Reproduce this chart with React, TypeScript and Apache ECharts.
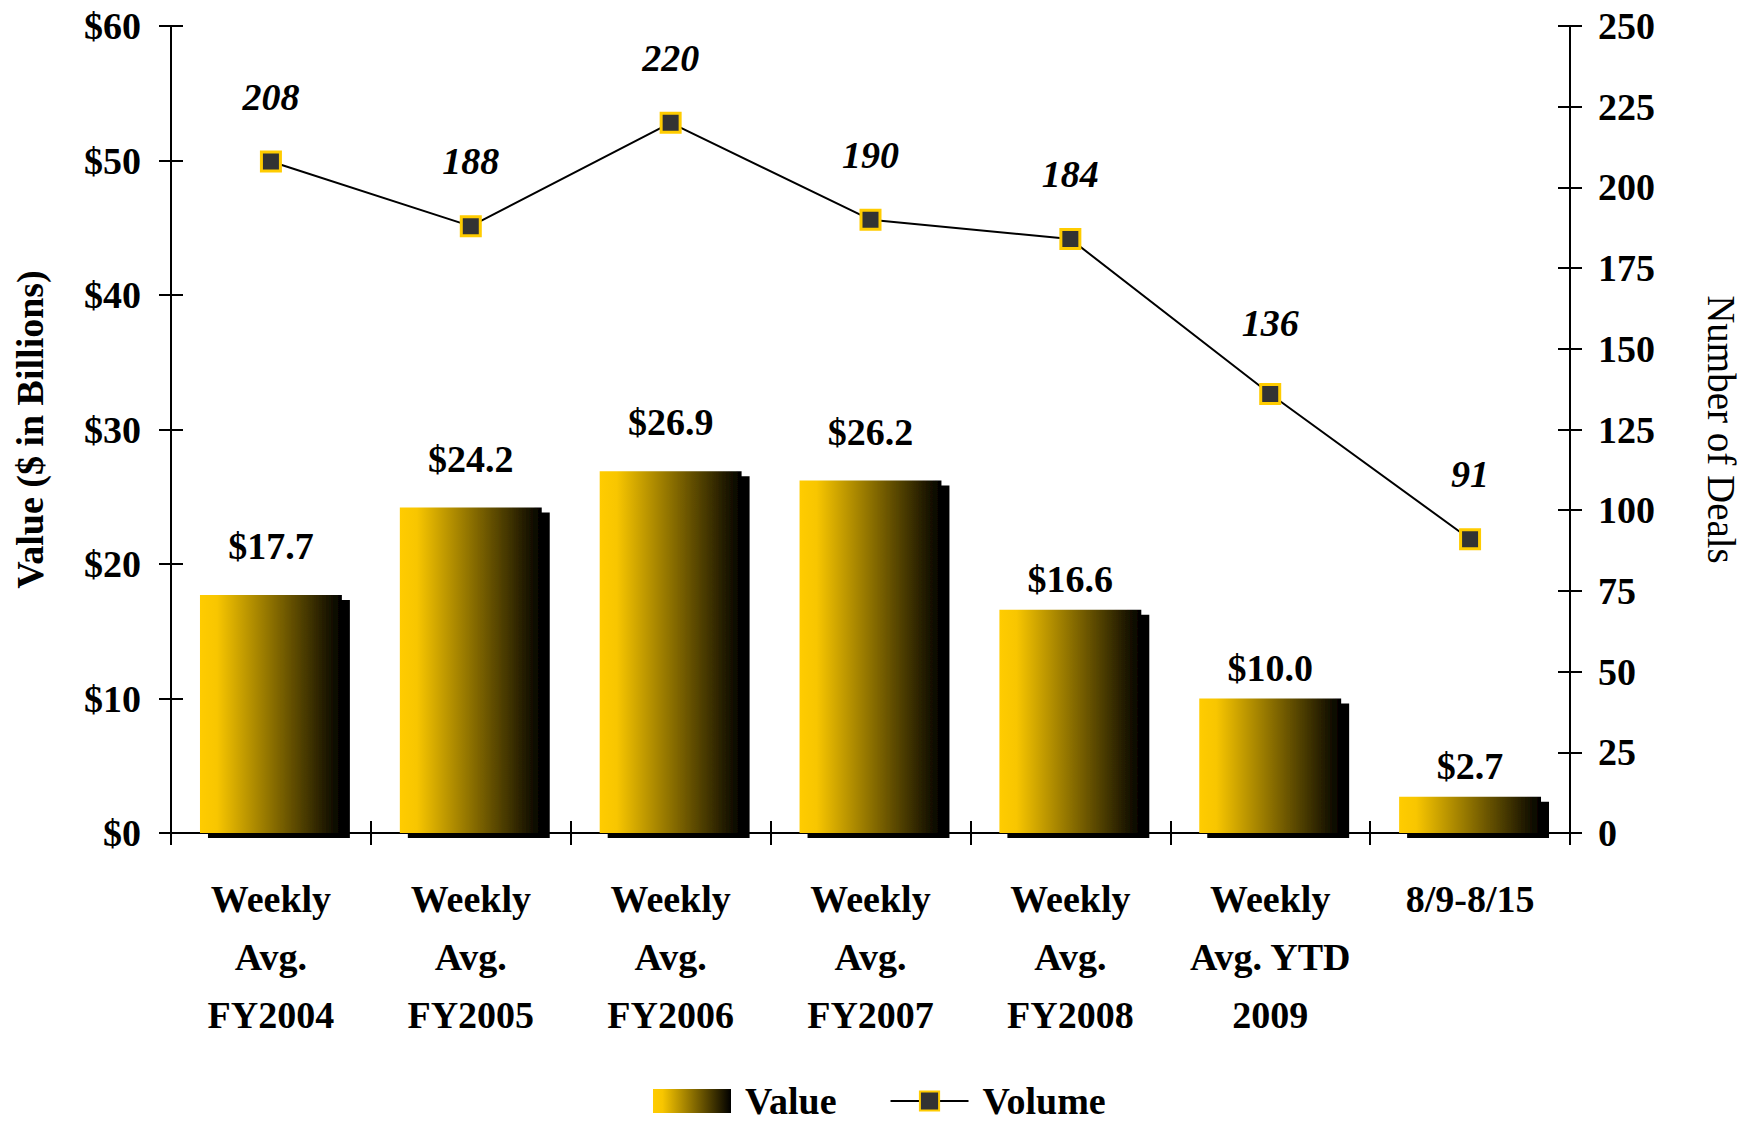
import React, { useEffect, useRef } from "react";
import * as echarts from "echarts";

const categories = [
  "Weekly\nAvg.\nFY2004",
  "Weekly\nAvg.\nFY2005",
  "Weekly\nAvg.\nFY2006",
  "Weekly\nAvg.\nFY2007",
  "Weekly\nAvg.\nFY2008",
  "Weekly\nAvg. YTD\n2009",
  "8/9-8/15",
];
const valueData = [17.7, 24.2, 26.9, 26.2, 16.6, 10.0, 2.7];
const volumeData = [208, 188, 220, 190, 184, 136, 91];
const leftTicks = { min: 0, max: 60, interval: 10 };
const rightTicks = { min: 0, max: 250, interval: 25 };

const FONT = "'Liberation Serif', 'Times New Roman', serif";
const FS = 38;

// label placement tweaks (styling, not data)
const barLabelDistance = [30, 30, 30, 30, 12, 12, 12];
const lineLabelDistance = [35, 35, 35, 35, 35, 41, 35];

export default function App() {
  const ref = useRef<HTMLDivElement>(null);
  useEffect(() => {
    document.body.style.margin = "0";
    const chart = echarts.init(ref.current!, undefined, { renderer: "svg" });
    const barGradient = new echarts.graphic.LinearGradient(0, 0, 1, 0, [
      { offset: 0, color: "#FFCC00" },
      { offset: 0.12, color: "#F8C600" },
      { offset: 1, color: "#000000" },
    ]);
    const axisBase = {
      axisLine: { show: true, lineStyle: { color: "#000", width: 2 } },
      splitLine: { show: false },
    };
    chart.setOption({
      animation: false,
      backgroundColor: "#fff",
      textStyle: { fontFamily: FONT },
      grid: { left: 171, right: 176, top: 26, bottom: 1125 - 833 },
      legend: {
        left: 653,
        top: 1082,
        padding: 0,
        itemWidth: 78,
        itemHeight: 24,
        itemGap: 53,
        textStyle: {
          fontFamily: FONT,
          fontSize: FS,
          fontWeight: "bold",
          color: "#000",
          lineHeight: 34,
          padding: [0, 0, 0, 9],
        },
        data: [
          {
            name: "Value",
            icon: "rect",
            itemStyle: { shadowColor: "transparent", shadowOffsetX: 0, shadowOffsetY: 0 },
          },
          { name: "Volume" },
        ],
      },
      xAxis: [
        {
          type: "category",
          data: categories,
          boundaryGap: true,
          ...axisBase,
          axisTick: { show: true, inside: false, length: 12, lineStyle: { color: "#000", width: 2 } },
          axisLabel: {
            interval: 0,
            margin: 37,
            fontFamily: FONT,
            fontSize: FS,
            fontWeight: "bold",
            color: "#000",
            lineHeight: 58,
          },
        },
        {
          type: "category",
          data: categories,
          boundaryGap: true,
          position: "bottom",
          axisLine: { show: false },
          splitLine: { show: false },
          axisTick: { show: true, inside: true, length: 12, lineStyle: { color: "#000", width: 2 } },
          axisLabel: { show: false },
        },
      ],
      yAxis: [
        {
          type: "value",
          position: "left",
          ...leftTicks,
          ...axisBase,
          name: "Value ($ in Billions)",
          nameLocation: "middle",
          nameGap: 122,
          nameTextStyle: { fontFamily: FONT, fontSize: FS, fontWeight: "bold", color: "#000" },
          axisTick: { show: true, inside: false, length: 12, lineStyle: { color: "#000", width: 2 } },
          axisLabel: {
            margin: 30,
            fontFamily: FONT,
            fontSize: FS,
            fontWeight: "bold",
            color: "#000",
            formatter: (v: number) => "$" + v,
          },
        },
        {
          type: "value",
          position: "right",
          ...rightTicks,
          ...axisBase,
          name: "Number of Deals",
          nameLocation: "middle",
          nameRotate: -90,
          nameGap: 132,
          nameTextStyle: { fontFamily: FONT, fontSize: 39, fontWeight: "normal", color: "#000" },
          axisTick: { show: true, inside: false, length: 12, lineStyle: { color: "#000", width: 2 } },
          axisLabel: {
            margin: 28,
            fontFamily: FONT,
            fontSize: FS,
            fontWeight: "bold",
            color: "#000",
          },
        },
        {
          type: "value",
          position: "left",
          ...leftTicks,
          axisLine: { show: false },
          splitLine: { show: false },
          axisTick: { show: true, inside: true, length: 12, lineStyle: { color: "#000", width: 2 } },
          axisLabel: { show: false },
        },
        {
          type: "value",
          position: "right",
          ...rightTicks,
          axisLine: { show: false },
          splitLine: { show: false },
          axisTick: { show: true, inside: true, length: 12, lineStyle: { color: "#000", width: 2 } },
          axisLabel: { show: false },
        },
      ],
      series: [
        {
          name: "Value",
          type: "bar",
          xAxisIndex: 0,
          yAxisIndex: 0,
          data: valueData.map((v, i) => ({ value: v, label: { distance: barLabelDistance[i] } })),
          barWidth: "71%",
          itemStyle: {
            color: barGradient,
            shadowColor: "#000",
            shadowBlur: 0,
            shadowOffsetX: 8,
            shadowOffsetY: 5,
          },
          label: {
            show: true,
            position: "top",
            distance: 30,
            fontFamily: FONT,
            fontSize: FS,
            fontWeight: "bold",
            color: "#000",
            formatter: (p: any) => "$" + Number(p.value).toFixed(1),
          },
          z: 2,
        },
        {
          name: "Volume",
          type: "line",
          xAxisIndex: 0,
          yAxisIndex: 1,
          data: volumeData.map((v, i) => ({ value: v, label: { distance: lineLabelDistance[i] } })),
          symbol: "rect",
          symbolSize: 19,
          lineStyle: { color: "#000", width: 2 },
          itemStyle: { color: "#333333", borderColor: "#FFCC00", borderWidth: 3 },
          label: {
            show: true,
            position: "top",
            distance: 35,
            fontFamily: FONT,
            fontSize: FS,
            fontWeight: "bold",
            fontStyle: "italic",
            color: "#000",
          },
          z: 3,
        },
      ],
    });
    return () => chart.dispose();
  }, []);
  return <div ref={ref} style={{ width: 1749, height: 1125 }} />;
}
